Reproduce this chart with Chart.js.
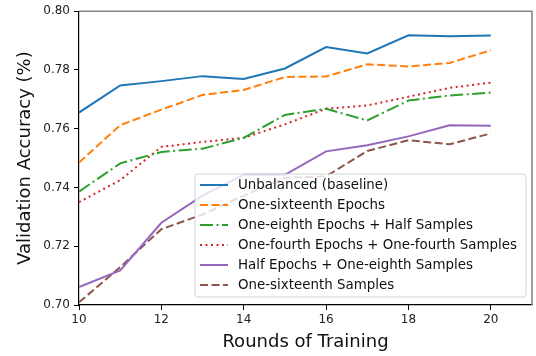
<!DOCTYPE html>
<html>
<head>
<meta charset="utf-8">
<script src="https://cdn.jsdelivr.net/npm/chart.js@4/dist/chart.umd.min.js"></script>
<style>
  html, body { margin: 0; padding: 0; background: #fff; }
  #wrap { width: 536px; height: 356px; position: relative; }
</style>
</head>
<body>
<div id="wrap"><canvas id="c" width="536" height="356"></canvas></div>
<script>
const rounds = [10, 11, 12, 13, 14, 15, 16, 17, 18, 19, 20];
const xTickValues = [10, 12, 14, 16, 18, 20];
const yTickValues = [0.70, 0.72, 0.74, 0.76, 0.78, 0.80];

const seriesNames = [
  "Unbalanced (baseline)",
  "One-sixteenth Epochs",
  "One-eighth Epochs + Half Samples",
  "One-fourth Epochs + One-fourth Samples",
  "Half Epochs + One-eighth Samples",
  "One-sixteenth Samples"
];
const unbalanced          = [0.7655, 0.7747, 0.7762, 0.7779, 0.7769, 0.7805, 0.7878, 0.7856, 0.7918, 0.7915, 0.7917];
const sixteenthEpochs     = [0.7485, 0.7612, 0.7665, 0.7715, 0.7732, 0.7776, 0.7778, 0.7819, 0.7812, 0.7824, 0.7867];
const eighthEpochsHalf    = [0.7386, 0.7482, 0.7521, 0.7532, 0.7569, 0.7647, 0.7668, 0.7628, 0.7696, 0.7713, 0.7723];
const fourthEpochsFourth  = [0.7350, 0.7425, 0.7538, 0.7555, 0.7569, 0.7615, 0.7668, 0.7679, 0.7709, 0.7739, 0.7757];
const halfEpochsEighth    = [0.7061, 0.7118, 0.7280, 0.7372, 0.7443, 0.7443, 0.7523, 0.7544, 0.7574, 0.7612, 0.7610];
const sixteenthSamples    = [0.7009, 0.7129, 0.7258, 0.7308, 0.7372, 0.7433, 0.7438, 0.7524, 0.7561, 0.7547, 0.7584];

const allSeries = [unbalanced, sixteenthEpochs, eighthEpochsHalf, fourthEpochsFourth, halfEpochsEighth, sixteenthSamples];
const colors = ["#1f77b4", "#ff7f0e", "#2ca02c", "#d62728", "#9467bd", "#8c564b"];
const dashes = [[], [8, 3.5], [13, 3.5, 2, 3.5], [2, 3.5], [], [8, 3.5]];

const FONT = "'DejaVu Sans', sans-serif";

const datasets = allSeries.map((vals, i) => ({
  label: seriesNames[i],
  data: rounds.map((r, j) => ({ x: r, y: vals[j] })),
  borderColor: colors[i],
  backgroundColor: colors[i],
  borderWidth: 2,
  borderDash: dashes[i],
  pointRadius: 0,
  tension: 0,
  fill: false
}));

const framePlugin = {
  id: 'frame',
  afterDatasetsDraw(chart) {
    const { ctx, chartArea: a } = chart;
    ctx.save();
    // top and right spines (grey)
    ctx.strokeStyle = '#888888';
    ctx.lineWidth = 1.6;
    ctx.beginPath();
    ctx.moveTo(a.left, a.top);
    ctx.lineTo(a.right, a.top);
    ctx.lineTo(a.right, a.bottom);
    ctx.stroke();

    // legend
    const bx = 195, by = 174, bw = 331, bh = 123, r = 3;
    ctx.fillStyle = 'rgba(255,255,255,0.8)';
    ctx.strokeStyle = 'rgba(204,204,204,0.8)';
    ctx.lineWidth = 1;
    ctx.beginPath();
    ctx.moveTo(bx + r, by);
    ctx.lineTo(bx + bw - r, by);
    ctx.arcTo(bx + bw, by, bx + bw, by + r, r);
    ctx.lineTo(bx + bw, by + bh - r);
    ctx.arcTo(bx + bw, by + bh, bx + bw - r, by + bh, r);
    ctx.lineTo(bx + r, by + bh);
    ctx.arcTo(bx, by + bh, bx, by + bh - r, r);
    ctx.lineTo(bx, by + r);
    ctx.arcTo(bx, by, bx + r, by, r);
    ctx.closePath();
    ctx.fill();
    ctx.stroke();

    ctx.font = '13.4px ' + FONT;
    ctx.textBaseline = 'middle';
    ctx.textAlign = 'left';
    chart.data.datasets.forEach((ds, i) => {
      const y = 185 + i * 20;
      ctx.strokeStyle = ds.borderColor;
      ctx.lineWidth = 2;
      ctx.setLineDash(ds.borderDash || []);
      ctx.beginPath();
      ctx.moveTo(200, y);
      ctx.lineTo(228, y);
      ctx.stroke();
      ctx.setLineDash([]);
      ctx.fillStyle = '#111';
      ctx.fillText(ds.label, 238, y + 1);
    });
    ctx.restore();
  }
};

new Chart(document.getElementById('c'), {
  type: 'line',
  data: { datasets },
  options: {
    responsive: false,
    animation: false,
    events: [],
    layout: { padding: { top: 10, right: 4, left: 0, bottom: 0 } },
    plugins: { legend: { display: false }, tooltip: { enabled: false } },
    scales: {
      x: {
        type: 'linear',
        min: 10, max: 21,
        afterBuildTicks: s => { s.ticks = xTickValues.map(v => ({ value: v })); },
        afterFit: s => { s.height = 51; },
        ticks: { font: { family: FONT, size: 12 }, color: '#222', padding: 3,
                 callback: v => String(v), maxRotation: 0 },
        grid: { display: true, drawOnChartArea: false, drawTicks: true, tickLength: 5, tickColor: '#000' },
        border: { display: true, color: '#000', width: 1.2 },
        title: { display: true, text: 'Rounds of Training', font: { family: FONT, size: 18 }, color: '#111',
                 padding: { top: 0, bottom: 3 } }
      },
      y: {
        min: 0.70, max: 0.80,
        afterBuildTicks: s => { s.ticks = yTickValues.map(v => ({ value: v })); },
        afterFit: s => { s.width = 79; },
        ticks: { font: { family: FONT, size: 12 }, color: '#222', padding: 4,
                 callback: v => Number(v).toFixed(2) },
        grid: { display: true, drawOnChartArea: false, drawTicks: true, tickLength: 5, tickColor: '#000' },
        border: { display: true, color: '#000', width: 1.2 },
        title: { display: true, text: 'Validation Accuracy (%)', font: { family: FONT, size: 18 }, color: '#111',
                 padding: { top: 15, bottom: 0 } }
      }
    }
  },
  plugins: [framePlugin]
});
</script>
</body>
</html>
